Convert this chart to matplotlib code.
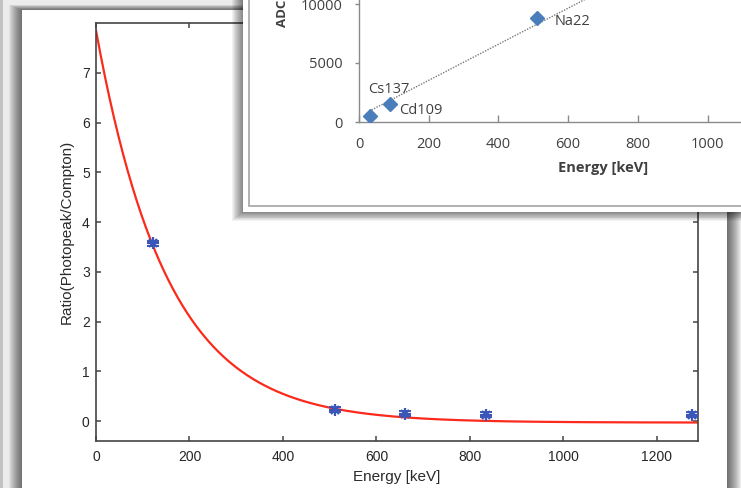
import numpy as np
import matplotlib
matplotlib.use('Agg')
import matplotlib.pyplot as plt
from matplotlib.patches import Rectangle

# figure size in pixels (dpi 100)
W, H = 741, 488

# main plot: photopeak / compton ratio vs energy
energy_kev = [122, 511, 662, 835, 1275]
ratio = [3.57, 0.23, 0.15, 0.13, 0.13]
ratio_err = [0.05, 0.05, 0.05, 0.05, 0.05]

# exponential fit
fit_amp = 7.88
fit_decay = 153.0
fit_offset = -0.03

# inset: ADC calibration
sources = ['Cs137', 'Cd109', 'Na22']
src_energy = [32, 88, 511]
src_adc = [500, 1550, 8790]
label_offsets = [(19, 27), (31, -7), (35, -3)]   # pixels
calib_slope = 15.3
calib_intercept = 470.0


def px_rect(x0, y0, x1, y1):
    # pixel box (top-left origin) -> figure fraction
    return [x0 / W, 1 - y1 / H, (x1 - x0) / W, (y1 - y0) / H]


def add_shadow(ax, x0, y0, x1, y1, spread, alpha=0.045, zorder=1):
    for i in range(spread):
        g = spread - i
        ax.add_patch(Rectangle((x0 - g, y0 - g * 0.4), (x1 - x0) + 2 * g, (y1 - y0) + g * 1.2,
                               facecolor='black', edgecolor='none', alpha=alpha, zorder=zorder))


fig = plt.figure(figsize=(W / 100, H / 100), dpi=100)
fig.patch.set_facecolor('#ececec')

# background layer (screenshot frame)
ax_bg = fig.add_axes([0, 0, 1, 1], zorder=0)
ax_bg.set_xlim(0, W)
ax_bg.set_ylim(H, 0)
ax_bg.axis('off')
ax_bg.add_patch(Rectangle((0, 0), 3, H, facecolor='#c2c2c2', edgecolor='none', zorder=0))
add_shadow(ax_bg, 22, 10, 727, 520, 13, alpha=0.05)
ax_bg.add_patch(Rectangle((22, 10), 705, 520, facecolor='white', edgecolor='none', zorder=3))

# main axes
ax = fig.add_axes(px_rect(96, 23, 698, 441), zorder=1)
ax.set_facecolor('white')
E = np.linspace(0, 1288, 400)
ax.plot(E, fit_amp * np.exp(-E / fit_decay) + fit_offset, color='#fb2a1c', lw=1.6, zorder=2)
ax.errorbar(energy_kev, ratio, yerr=ratio_err, fmt='none', ecolor='#3a56b8',
            elinewidth=1.4, capsize=4.0, capthick=1.4, zorder=3)
ax.plot(energy_kev, ratio, linestyle='none', marker='+', ms=8.5, mew=1.6, color='#3a56b8', zorder=3)
ax.plot(energy_kev, ratio, linestyle='none', marker='x', ms=6, mew=1.6, color='#3a56b8', zorder=3)

ax.set_xlim(0, 1288)
ax.set_ylim(-0.4, 8)
ax.set_xticks(range(0, 1201, 200))
ax.set_yticks(range(0, 8))
for s in ax.spines.values():
    s.set_color('#444444')
    s.set_linewidth(1.2)
ax.tick_params(direction='in', top=True, right=True, length=3.8, width=1.1, color='#444444',
               labelcolor='#262626', labelsize=10)
ax.tick_params(axis='x', pad=6.5)
ax.tick_params(axis='y', pad=4.5)
for lab in ax.get_xticklabels() + ax.get_yticklabels():
    lab.set_family('Liberation Sans')
ax.set_xlabel('Energy [keV]', family='Liberation Sans', fontsize=11, color='#2a2a2a', labelpad=4)
ax.set_ylabel('Ratio(Photopeak/Compton)', family='Liberation Sans', fontsize=11, color='#2a2a2a',
              labelpad=6)

# overlay layer for the inset window
ax_ov = fig.add_axes([0, 0, 1, 1], zorder=2)
ax_ov.set_xlim(0, W)
ax_ov.set_ylim(H, 0)
ax_ov.axis('off')
add_shadow(ax_ov, 243, -20, 760, 212, 11, alpha=0.05)
ax_ov.add_patch(Rectangle((243, -20), 520, 232, facecolor='white', edgecolor='none', zorder=3))
ax_ov.add_patch(Rectangle((249, -20), 520, 226, facecolor='white', edgecolor='#a4a4a4', lw=1.2, zorder=4))

# inset axes
ax_in = fig.add_axes(px_rect(359, -55, 847, 122), zorder=3)
ax_in.set_facecolor('none')
xs = np.array([36, 1400])
ax_in.plot(xs, calib_slope * xs + calib_intercept, color='#7a7a7a', lw=1.0, ls=(0, (1, 1)), zorder=2)
ax_in.plot(src_energy, src_adc, linestyle='none', marker='D', ms=7.5, color='#4a7ebb', zorder=3)
for name, ex, ey, off in zip(sources, src_energy, src_adc, label_offsets):
    ax_in.annotate(name, (ex, ey), xytext=off, textcoords='offset pixels', ha='center', va='center',
                   family='Open Sans', fontsize=10.5, color='#404040')
ax_in.set_xlim(0, 1400)
ax_in.set_ylim(0, 15000)
ax_in.set_xticks(range(0, 1001, 200))
ax_in.set_yticks([0, 5000, 10000])
ax_in.spines['top'].set_visible(False)
ax_in.spines['right'].set_visible(False)
for s in ('left', 'bottom'):
    ax_in.spines[s].set_color('#8a8a8a')
    ax_in.spines[s].set_linewidth(1.0)
ax_in.tick_params(axis='x', direction='in', length=4.8, width=1, color='#8a8a8a', pad=11,
                  labelsize=10.5, labelcolor='#404040')
ax_in.tick_params(axis='y', direction='out', length=3, width=1, color='#8a8a8a', pad=9,
                  labelsize=10.5, labelcolor='#404040')
for lab in ax_in.get_xticklabels() + ax_in.get_yticklabels():
    lab.set_family('Open Sans')
ax_in.set_xlabel('Energy [keV]', family='Open Sans', fontsize=10.5, fontweight='bold',
                 color='#404040', labelpad=6)
fig.text(283 / W, 1 - 27 / H, 'ADC', rotation=90, ha='center', va='bottom', family='Open Sans',
         fontsize=9.5, fontweight='bold', color='#404040', zorder=6)

plt.savefig('out.png', dpi=100)
